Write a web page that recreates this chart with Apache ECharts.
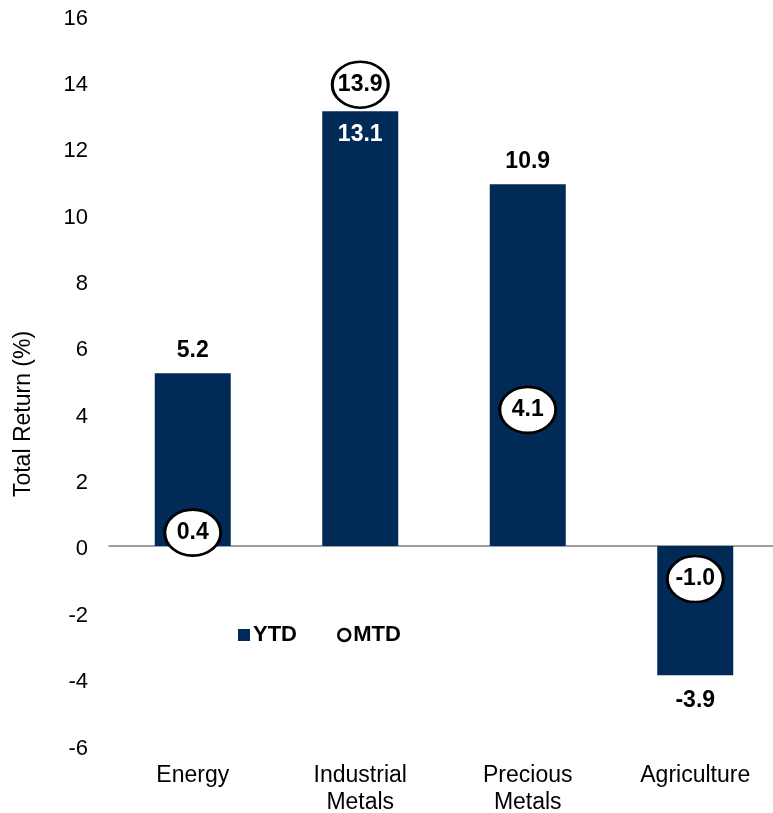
<!DOCTYPE html>
<html>
<head>
<meta charset="utf-8">
<script src="https://cdn.jsdelivr.net/npm/echarts@6/dist/echarts.min.js"></script>
<style>
html,body{margin:0;padding:0;background:#fff;}
#c{width:773px;height:813px;}
</style>
</head>
<body>
<div id="c"></div>
<script>
const categories = ['Energy', 'Industrial\nMetals', 'Precious\nMetals', 'Agriculture'];
const ytdValues = [5.2, 13.1, 10.9, -3.9];
const mtdValues = [0.4, 13.9, 4.1, -1.0];
const yTicks = { min: -6, max: 16, interval: 2 };
const seriesNames = ['YTD', 'MTD'];
const axisTitle = 'Total Return (%)';

const navy = '#022a57';
const font = '"Liberation Sans", Arial, sans-serif';

const ytdData = ytdValues.map(function (v, i) {
  let pos, color = '#000';
  if (v < 0) { pos = 'bottom'; }
  else if (mtdValues[i] > v) { pos = 'insideTop'; color = '#fff'; }
  else { pos = 'top'; }
  return {
    value: v,
    label: { position: pos, color: color, distance: pos === 'bottom' ? 14 : (pos === 'insideTop' ? 12 : 11) }
  };
});

const chart = echarts.init(document.getElementById('c'), null, { renderer: 'canvas' });
chart.setOption({
  animation: false,
  backgroundColor: '#fff',
  textStyle: { fontFamily: font },
  grid: { left: 109, width: 670, top: 15, height: 730, containLabel: false, outerBoundsMode: 'none' },
  legend: {
    left: 233,
    top: 619,
    itemWidth: 12,
    itemHeight: 12,
    itemGap: 40,
    textStyle: { fontFamily: font, fontSize: 22, fontWeight: 'bold', color: '#000', padding: [0, 0, 0, -2] },
    data: [
      { name: seriesNames[0], icon: 'rect', itemStyle: { color: navy, borderWidth: 0 } },
      { name: seriesNames[1], icon: 'circle', itemStyle: { color: '#fff', borderColor: '#000', borderWidth: 2.5 } }
    ]
  },
  xAxis: {
    type: 'category',
    data: categories,
    axisLine: { onZero: true, lineStyle: { color: '#808080', width: 1.5 } },
    axisTick: { show: false },
    axisLabel: {
      interval: 0,
      fontFamily: font,
      fontSize: 23,
      color: '#000',
      lineHeight: 27,
      margin: 17
    },
    position: 'bottom'
  },
  yAxis: {
    type: 'value',
    min: yTicks.min,
    max: yTicks.max,
    interval: yTicks.interval,
    axisLine: { show: false },
    axisTick: { show: false },
    splitLine: { show: false },
    axisLabel: {
      fontFamily: font, fontSize: 22, color: '#000', margin: 21,
      formatter: '{a|{value}}',
      rich: { a: { fontFamily: font, fontSize: 22, color: '#000', padding: [7, 0, 0, 0] } }
    }
  },
  graphic: [{
    type: 'text',
    x: 24,
    y: 414,
    rotation: Math.PI / 2,
    style: {
      text: axisTitle,
      fontFamily: font,
      fontSize: 23,
      fill: '#000',
      align: 'center',
      verticalAlign: 'middle'
    }
  }],
  series: [
    {
      name: seriesNames[0],
      type: 'bar',
      data: ytdData,
      barWidth: 76,
      itemStyle: { color: navy },
      label: {
        show: true,
        fontFamily: font,
        fontSize: 23,
        fontWeight: 'bold',
        formatter: function (p) { return p.value.toFixed(1); }
      },
      z: 2
    },
    {
      name: seriesNames[1],
      type: 'scatter',
      data: mtdValues,
      symbol: 'circle',
      symbolSize: [56, 46],
      itemStyle: { color: '#fff', borderColor: '#000', borderWidth: 2.8, opacity: 1 },
      label: {
        show: true,
        position: 'inside',
        fontFamily: font,
        fontSize: 23,
        fontWeight: 'bold',
        color: '#000',
        formatter: function (p) { return p.value.toFixed(1); }
      },
      emphasis: { disabled: true },
      z: 5
    }
  ]
});
</script>
</body>
</html>
